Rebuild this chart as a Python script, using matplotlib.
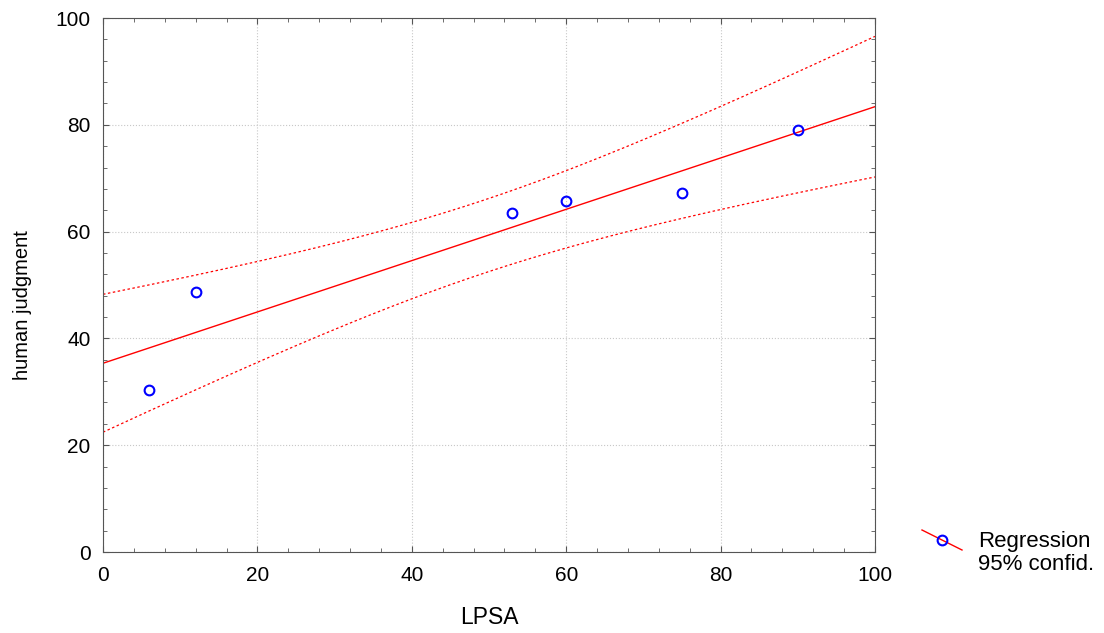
import numpy as np
import matplotlib
matplotlib.use('Agg')
from matplotlib import pyplot as plt
from matplotlib.ticker import MultipleLocator

plt.rcParams['font.family'] = ['Liberation Sans', 'DejaVu Sans']

# LPSA vs human judgment
lpsa  = np.array([6, 12, 53, 60, 75, 90])
human = np.array([30.3, 48.6, 63.4, 65.8, 67.2, 79.0])
t_crit = 2.776  # t(0.975, df=4)

# linear regression + 95% confidence band of the mean
slope, icept = np.polyfit(lpsa, human, 1)
n = len(lpsa)
resid = human - (slope * lpsa + icept)
s = np.sqrt(np.sum(resid ** 2) / (n - 2))
sxx = np.sum((lpsa - lpsa.mean()) ** 2)
xs = np.linspace(0, 100, 201)
fit = slope * xs + icept
half = t_crit * s * np.sqrt(1 / n + (xs - lpsa.mean()) ** 2 / sxx)

fig = plt.figure(figsize=(11.04, 6.33), dpi=100)
ax = fig.add_axes([103 / 1104, 1 - 552 / 633, (875 - 103) / 1104, (552 - 18) / 633])

ax.plot(xs, fit, color='red', lw=1.0)
ax.plot(xs, fit + half, color='red', lw=0.9, ls=(0, (2, 2)))
ax.plot(xs, fit - half, color='red', lw=0.9, ls=(0, (2, 2)))
ax.plot(lpsa, human, 'o', mfc='none', mec='blue', mew=1.5, ms=7)

ax.set_xlim(0, 100)
ax.set_ylim(0, 100)
ax.xaxis.set_major_locator(MultipleLocator(20))
ax.yaxis.set_major_locator(MultipleLocator(20))
ax.xaxis.set_minor_locator(MultipleLocator(4))
ax.yaxis.set_minor_locator(MultipleLocator(4))
ax.tick_params(which='both', direction='in', top=True, right=True, color='#555555')
ax.tick_params(which='major', length=4, labelsize=15)
ax.tick_params(axis='x', which='major', pad=10)
ax.tick_params(axis='y', which='major', pad=9)
ax.tick_params(which='minor', length=3)
ax.grid(True, which='major', color='#c8c8c8', ls=':', lw=0.8)
for sp in ax.spines.values():
    sp.set_color('#555555')

ax.set_xlabel('LPSA', fontsize=16.5, labelpad=15)
ax.set_ylabel('human judgment', fontsize=14.5, labelpad=17)
ax.yaxis.label.set_y(0.4625)

# legend
fig.lines.append(plt.Line2D([922 / 1104, 962 / 1104], [1 - 530 / 633, 1 - 550 / 633],
                            color='red', lw=1.0, transform=fig.transFigure))
fig.lines.append(plt.Line2D([942 / 1104], [1 - 540 / 633], marker='o', mfc='none', mec='blue',
                            mew=1.5, ms=7, transform=fig.transFigure))
fig.text(978 / 1104, 1 - 541 / 633, 'Regression', fontsize=16, va='center')
fig.text(978 / 1104, 1 - 565 / 633, '95% confid.', fontsize=16, va='center')

fig.savefig('out.png', dpi=100)
